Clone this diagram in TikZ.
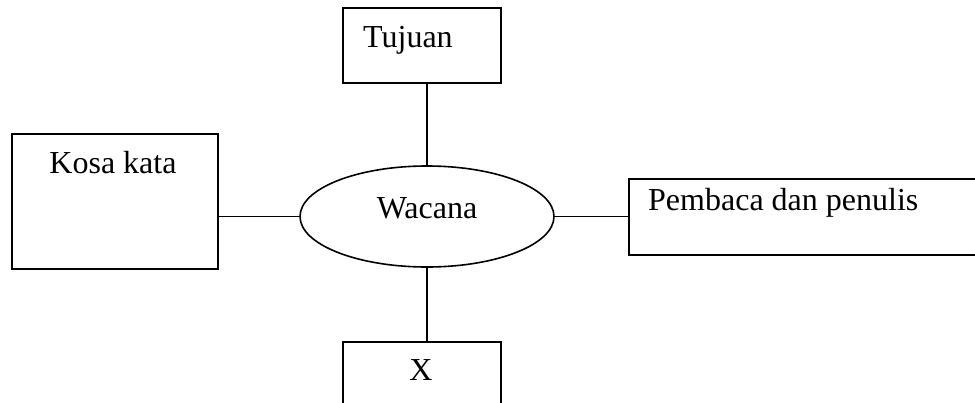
\documentclass[tikz,border=0pt]{standalone}
\usepackage{fontspec}
\setmainfont{Liberation Serif}
\usetikzlibrary{shapes.geometric}
\begin{document}
\begin{tikzpicture}[x=1pt,y=-1pt,
  box/.style={draw, line width=1.8pt, rectangle, inner sep=0pt, anchor=north west},
  oval/.style={draw, line width=1.6pt, ellipse, inner sep=0pt},
  lbl/.style={font=\fontsize{32}{38}\selectfont, inner sep=0pt},
  link/.style={line width=1.8pt}]
\useasboundingbox (0,0) rectangle (975,402);
% boxes
\node[box, minimum width=158pt, minimum height=75pt] (tujuan) at (342,7) {};
\node[box, minimum width=206pt, minimum height=135pt] (kosa) at (11,133) {};
\node[box, minimum width=360pt, minimum height=76pt] (pembaca) at (628,178) {};
\node[box, minimum width=158pt, minimum height=80pt] (xbox) at (342,341) {};
\node[oval, minimum width=254pt, minimum height=101pt] (wacana) at (427,216.5) {};
% texts
\node[lbl, anchor=base west] (tTujuan) at (363,47) {Tujuan};
\node[lbl, anchor=base] (tKosa) at (113,173) {Kosa kata};
\node[lbl, anchor=base] (tWacana) at (427,218) {Wacana};
\node[lbl, anchor=base west] (tPembaca) at (648,210) {Pembaca dan penulis};
\node[lbl, anchor=base] (tX) at (421,380) {X};
% connectors
\draw[link] (wacana.north) -- (wacana.north |- tujuan.south);
\draw[link] (wacana.south) -- (wacana.south |- xbox.north);
\draw[link] (wacana.west) -- (wacana.west -| kosa.east);
\draw[link] (wacana.east) -- (wacana.east -| pembaca.west);
\end{tikzpicture}
\end{document}
